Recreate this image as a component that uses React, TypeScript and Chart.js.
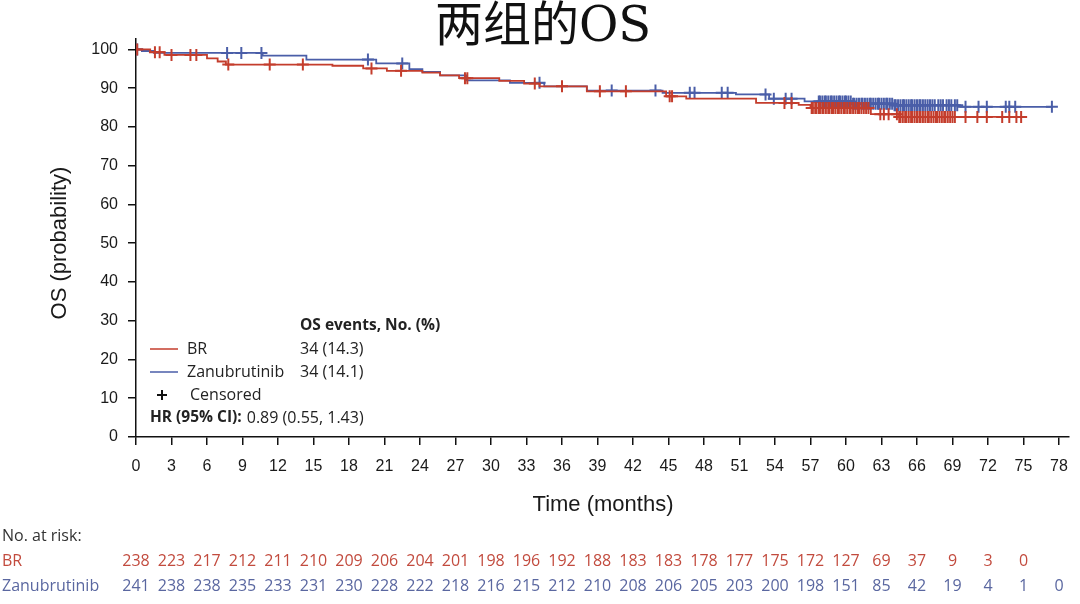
import React, { useEffect, useRef } from "react";
import { Chart, registerables } from "chart.js";

Chart.register(...registerables);

const TITLE = "两组的OS";
const Y_TITLE = "OS (probability)";
const X_TITLE = "Time (months)";

const xTickValues = [0, 3, 6, 9, 12, 15, 18, 21, 24, 27, 30, 33, 36, 39, 42, 45, 48, 51, 54, 57, 60, 63, 66, 69, 72, 75, 78];
const yTickValues = [0, 10, 20, 30, 40, 50, 60, 70, 80, 90, 100];

const riskBR = [238, 223, 217, 212, 211, 210, 209, 206, 204, 201, 198, 196, 192, 188, 183, 183, 178, 177, 175, 172, 127, 69, 37, 9, 3, 0];
const riskZanu = [241, 238, 238, 235, 233, 231, 230, 228, 222, 218, 216, 215, 212, 210, 208, 206, 205, 203, 200, 198, 151, 85, 42, 19, 4, 1, 0];

// Kaplan-Meier steps: [month, survival %]
const brSteps: [number, number][] = [
  [0, 100], [1.2, 99.3], [2.4, 98.6], [6.0, 97.7], [6.9, 96.9], [7.6, 96.1], [16.6, 95.8], [19.2, 95.1],
  [21.2, 94.5], [24.2, 94.0], [25.7, 93.3], [27.3, 92.6], [30.7, 91.9], [32.8, 91.2], [34.1, 90.5],
  [38.1, 89.2], [44.8, 87.9], [46.5, 87.3], [52.4, 86.2], [56.0, 85.7], [57.0, 84.9], [62.1, 83.3],
  [64.5, 82.6], [74.8, 82.6],
];
const zanuSteps: [number, number][] = [
  [0, 100], [0.5, 99.6], [1.5, 99.1], [10.7, 98.4], [14.4, 97.4], [20.3, 96.4], [23.1, 94.9], [24.2, 94.2],
  [25.7, 93.3], [27.9, 92.0], [31.6, 91.4], [34.5, 90.5], [38.1, 89.4], [44.5, 88.8], [50.7, 88.4],
  [53.5, 87.3], [56.5, 86.6], [60.5, 86.0], [64.0, 85.6], [69.5, 85.2], [77.4, 85.2],
];

// censoring times (months)
const brCensored = [
  0.1, 1.6, 2.0, 3.0, 4.6, 5.1, 7.8, 11.3, 14.1, 19.9, 22.4, 27.8, 28.0, 33.7, 36.0, 39.2, 41.4, 45.1, 45.3,
  54.8, 55.4, 57.1, 57.2, 57.4, 57.5, 57.7, 57.8, 58.0, 58.1, 58.3, 58.5, 58.6, 58.8, 58.9, 59.1, 59.3, 59.4,
  59.6, 59.8, 59.9, 60.1, 60.3, 60.4, 60.6, 60.8, 61.0, 61.1, 61.3, 61.5, 61.7, 61.9, 62.9, 63.2, 63.6,
  64.3, 64.5, 64.6, 64.8, 65.0, 65.1, 65.3, 65.5, 65.6, 65.8, 66.0, 66.2, 66.3, 66.5, 66.7, 66.9, 67.0,
  67.2, 67.4, 67.6, 67.7, 67.9, 68.1, 68.3, 68.4, 68.6, 68.8, 69.0, 69.2, 70.1, 71.1, 71.9, 73.2, 73.8,
  74.4, 74.8,
];
const zanuCensored = [
  0.1, 7.7, 8.9, 10.6, 19.6, 22.5, 34.1, 40.2, 43.9, 46.8, 47.2, 49.5, 50.0, 53.2, 53.9, 54.9, 55.4, 57.7,
  57.8, 58.0, 58.2, 58.3, 58.5, 58.7, 58.8, 59.0, 59.2, 59.4, 59.5, 59.7, 59.9, 60.0, 60.2, 60.4, 60.6,
  60.7, 60.9, 61.1, 61.3, 61.4, 61.6, 61.8, 62.0, 62.1, 62.3, 62.5, 62.7, 62.8, 63.0, 63.2, 63.4, 63.5,
  63.7, 63.9, 64.1, 64.2, 64.4, 64.6, 64.8, 64.9, 65.1, 65.3, 65.5, 65.6, 65.8, 66.0, 66.2, 66.3, 66.5,
  66.7, 66.9, 67.1, 67.3, 67.5, 67.8, 68.0, 68.2, 68.5, 68.7, 68.9, 69.2, 69.4, 70.1, 71.2, 71.9, 73.5,
  73.8, 74.3, 77.4,
];

const legendEventsHeader = "OS events, No. (%)";
const legendBR = ["BR", "34 (14.3)"];
const legendZanu = ["Zanubrutinib", "34 (14.1)"];
const legendCensored = "Censored";
const hrLabel = "HR (95% CI):";
const hrValue = "0.89 (0.55, 1.43)";
const riskHeader = "No. at risk:";

const RED = "#c43d2c";
const BLUE = "#4a5ea8";
const RED_TXT = "#c24b3e";
const BLUE_TXT = "#5a67a0";
const FONT = "'Liberation Sans', Arial, sans-serif";
const TFONT = "'Open Sans', 'Liberation Sans', sans-serif";

function stepValue(steps: [number, number][], t: number): number {
  let v = steps[0][1];
  for (const [m, s] of steps) {
    if (m <= t) v = s;
    else break;
  }
  return v;
}

const overlayPlugin = {
  id: "overlay",
  afterDraw(chart: any) {
    const ctx = chart.ctx as CanvasRenderingContext2D;
    const xs = chart.scales.x;
    ctx.save();
    // main title
    ctx.fillStyle = "#111";
    ctx.textAlign = "center";
    ctx.textBaseline = "middle";
    ctx.font = "48px 'DejaVu Serif', 'Noto Sans CJK SC', serif";
    ctx.fillText(TITLE, 543, 29);

    // axis titles
    ctx.font = `22px ${FONT}`;
    ctx.fillStyle = "#1a1a1a";
    ctx.fillText(X_TITLE, 603, 505);
    ctx.save();
    ctx.translate(60, 243);
    ctx.rotate(-Math.PI / 2);
    ctx.fillText(Y_TITLE, 0, 0);
    ctx.restore();

    // legend
    ctx.textAlign = "left";
    ctx.fillStyle = "#222";
    ctx.font = `bold 15.5px ${TFONT}`;
    ctx.fillText(legendEventsHeader, 300, 326);
    ctx.font = `16px ${TFONT}`;
    ctx.fillText(legendBR[0], 187, 349);
    ctx.fillText(legendBR[1], 300, 349);
    ctx.fillText(legendZanu[0], 187, 372);
    ctx.fillText(legendZanu[1], 300, 372);
    ctx.fillText(legendCensored, 190, 395);
    ctx.font = `bold 15.5px ${TFONT}`;
    ctx.fillText(hrLabel, 150, 418);
    const w = ctx.measureText(hrLabel).width;
    ctx.font = `16px ${TFONT}`;
    ctx.fillText(hrValue, 150 + w + 5, 418);

    ctx.lineWidth = 1.5;
    ctx.strokeStyle = RED;
    ctx.beginPath();
    ctx.moveTo(150, 349);
    ctx.lineTo(178, 349);
    ctx.stroke();
    ctx.strokeStyle = BLUE;
    ctx.beginPath();
    ctx.moveTo(150, 372);
    ctx.lineTo(178, 372);
    ctx.stroke();
    ctx.strokeStyle = "#111";
    ctx.lineWidth = 2;
    ctx.beginPath();
    ctx.moveTo(157, 395);
    ctx.lineTo(167, 395);
    ctx.moveTo(162, 390);
    ctx.lineTo(162, 400);
    ctx.stroke();

    // risk table
    ctx.font = `16px ${TFONT}`;
    ctx.fillStyle = "#333";
    ctx.fillText(riskHeader, 2, 536);
    ctx.fillStyle = RED_TXT;
    ctx.fillText("BR", 2, 561);
    ctx.fillStyle = BLUE_TXT;
    ctx.fillText("Zanubrutinib", 2, 586);
    ctx.textAlign = "center";
    riskBR.forEach((v, i) => {
      ctx.fillStyle = RED_TXT;
      ctx.fillText(String(v), xs.getPixelForValue(xTickValues[i]), 561);
    });
    riskZanu.forEach((v, i) => {
      ctx.fillStyle = BLUE_TXT;
      ctx.fillText(String(v), xs.getPixelForValue(xTickValues[i]), 586);
    });
    ctx.restore();
  },
};

export default function App() {
  const ref = useRef<HTMLCanvasElement>(null);
  useEffect(() => {
    if (!ref.current) return;
    const brLine = brSteps.map(([x, y]) => ({ x, y }));
    const zLine = zanuSteps.map(([x, y]) => ({ x, y }));
    const brC = brCensored.map((x) => ({ x, y: stepValue(brSteps, x) }));
    const zC = zanuCensored.map((x) => ({ x, y: stepValue(zanuSteps, x) }));
    const chart = new Chart(ref.current, {
      type: "line",
      data: {
        datasets: [
          { label: "BR", data: brLine, borderColor: RED, borderWidth: 1.8, stepped: "before", pointRadius: 0, fill: false } as any,
          { label: "BR censored", data: brC, showLine: false, pointStyle: "cross", pointRadius: 6, borderColor: RED, borderWidth: 2, pointHoverRadius: 6 } as any,
          { label: "Zanubrutinib", data: zLine, borderColor: BLUE, borderWidth: 1.8, stepped: "before", pointRadius: 0, fill: false } as any,
          { label: "Zanubrutinib censored", data: zC, showLine: false, pointStyle: "cross", pointRadius: 6, borderColor: BLUE, borderWidth: 2, pointHoverRadius: 6 } as any,
        ],
      },
      options: {
        animation: false,
        responsive: true,
        maintainAspectRatio: false,
        layout: { padding: { top: 39, left: 0, right: 10, bottom: 0 } },
        plugins: { legend: { display: false }, tooltip: { enabled: false }, title: { display: false } },
        scales: {
          x: {
            type: "linear",
            min: 0,
            max: 78.8,
            afterFit: (s: any) => { s.height = 167; },
            afterBuildTicks: (s: any) => { s.ticks = xTickValues.map((v) => ({ value: v })); },
            ticks: { color: "#1a1a1a", font: { size: 16, family: FONT }, padding: 12, maxRotation: 0, autoSkip: false },
            grid: { drawOnChartArea: false, drawTicks: true, tickLength: 8, color: "#111", lineWidth: 1.5 },
            border: { display: true, color: "#111", width: 1.5 },
          },
          y: {
            type: "linear",
            min: 0,
            max: 102.7,
            afterFit: (s: any) => { s.width = 136; },
            afterBuildTicks: (s: any) => { s.ticks = yTickValues.map((v) => ({ value: v })); },
            ticks: { color: "#1a1a1a", font: { size: 16, family: FONT }, padding: 10 },
            grid: { drawOnChartArea: false, drawTicks: true, tickLength: 8, color: "#111", lineWidth: 1.5 },
            border: { display: true, color: "#111", width: 1.5 },
          },
        },
      },
      plugins: [overlayPlugin],
    });
    return () => chart.destroy();
  }, []);
  return (
    <div style={{ position: "fixed", left: 0, top: 0, width: 1080, height: 604, background: "#fff" }}>
      <canvas ref={ref} />
    </div>
  );
}
